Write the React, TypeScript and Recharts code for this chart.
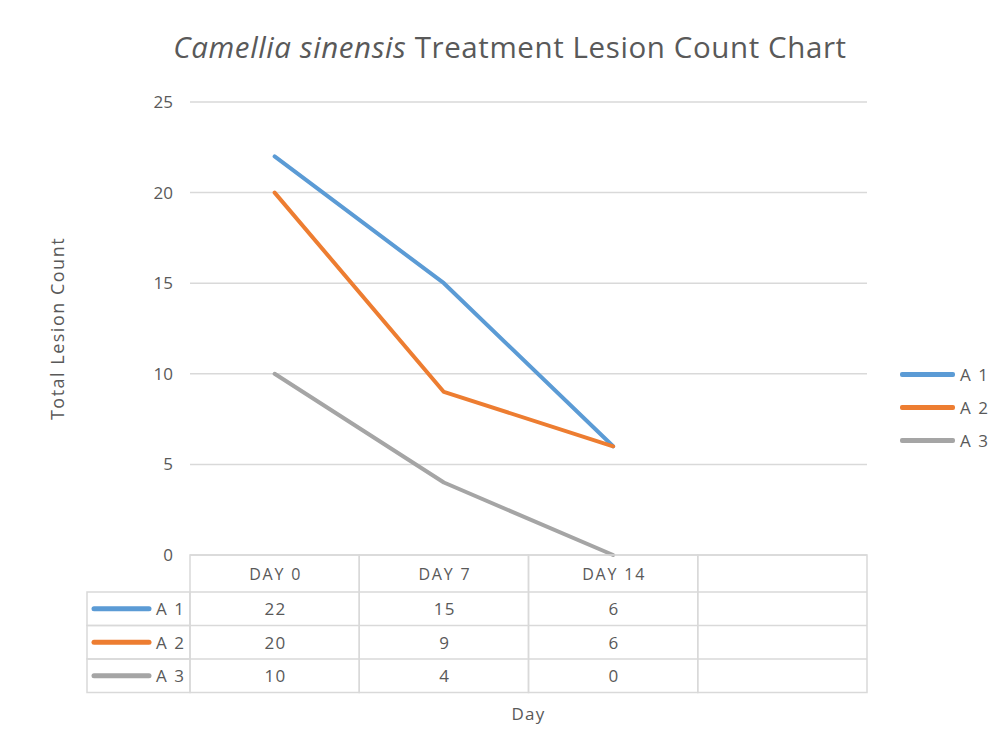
import React from 'react';
import { ComposedChart, Line, XAxis, YAxis, CartesianGrid, Legend } from 'recharts';

const categories = ['DAY 0', 'DAY 7', 'DAY 14', ''];
const seriesNames = ['A 1', 'A 2', 'A 3'];
const a1Values = [22, 15, 6];
const a2Values = [20, 9, 6];
const a3Values = [10, 4, 0];
const yTicks = [0, 5, 10, 15, 20, 25];
const colors = ['#5B9BD5', '#ED7D31', '#A5A5A5'];

const seriesValues = [a1Values, a2Values, a3Values];

const data = categories.map((cat, i) => ({
  day: cat,
  a1: a1Values[i] ?? null,
  a2: a2Values[i] ?? null,
  a3: a3Values[i] ?? null,
}));
const keys = ['a1', 'a2', 'a3'];

const FONT = '"Open Sans", sans-serif';
const TEXT = '#595959';
const BORDER = '#D9D9D9';
const HEADER_H = 37;
const ROW_H = 33.5;
const LEGEND_COL_W = 103;

const TableTick = (props: any) => {
  const { x, y, payload, index } = props;
  const colW = payload && payload.offset ? payload.offset * 2 : 169.25;
  const left = x - colW / 2;
  const top = y;
  const totalH = HEADER_H + ROW_H * seriesNames.length;
  const els: any[] = [];
  els.push(
    <rect key="cell" x={left} y={top} width={colW} height={totalH} fill="none" stroke={BORDER} strokeWidth={1.5} />
  );
  for (let r = 0; r < seriesNames.length; r++) {
    const ry = top + HEADER_H + r * ROW_H;
    els.push(<line key={'h' + r} x1={left} x2={left + colW} y1={ry} y2={ry} stroke={BORDER} strokeWidth={1.5} />);
    const v = seriesValues[r][index];
    if (v !== undefined && v !== null) {
      els.push(
        <text key={'v' + r} x={x + 1} y={ry + ROW_H / 2} textAnchor="middle" dominantBaseline="central"
          fontFamily={FONT} fontSize={17} letterSpacing={1.5} fill={TEXT}>{v}</text>
      );
    }
  }
  els.push(
    <text key="hdr" x={x + 1} y={top + HEADER_H / 2} textAnchor="middle" dominantBaseline="central"
      fontFamily={FONT} fontSize={16} letterSpacing={1.8} fill={TEXT}>{payload.value}</text>
  );
  if (index === 0) {
    const lx = left - LEGEND_COL_W;
    for (let r = 0; r < seriesNames.length; r++) {
      const ry = top + HEADER_H + r * ROW_H;
      els.push(<rect key={'lc' + r} x={lx} y={ry} width={LEGEND_COL_W} height={ROW_H} fill="none" stroke={BORDER} strokeWidth={1.5} />);
      els.push(<line key={'ls' + r} x1={lx + 7} x2={lx + 62} y1={ry + ROW_H / 2} y2={ry + ROW_H / 2} stroke={colors[r]} strokeWidth={5} strokeLinecap="round" />);
      els.push(
        <text key={'lt' + r} x={lx + 69} y={ry + ROW_H / 2} dominantBaseline="central"
          fontFamily={FONT} fontSize={17} letterSpacing={1.5} fill={TEXT}>{seriesNames[r]}</text>
      );
    }
  }
  return <g>{els}</g>;
};

const LegendContent = () => (
  <div style={{ fontFamily: FONT, fontSize: 17, color: TEXT, letterSpacing: 1.5 }}>
    {seriesNames.map((n, i) => (
      <div key={n} style={{ display: 'flex', alignItems: 'center', height: 33 }}>
        <div style={{ width: 55, height: 5, background: colors[i], borderRadius: 2, marginLeft: 2, marginRight: 5 }} />
        <span style={{ whiteSpace: 'nowrap' }}>{n}</span>
      </div>
    ))}
  </div>
);

const YLabel = (props: any) => {
  const { viewBox } = props;
  const cx = viewBox.x + 57;
  const cy = viewBox.y + viewBox.height / 2;
  return (
    <text x={cx} y={cy} transform={`rotate(-90 ${cx} ${cy})`} textAnchor="middle" dominantBaseline="central"
      fontFamily={FONT} fontSize={18} letterSpacing={1.5} fill={TEXT}>Total Lesion Count</text>
  );
};

const XLabel = (props: any) => {
  const { viewBox } = props;
  const cx = viewBox.x + viewBox.width / 2;
  return (
    <text x={cx} y={713} textAnchor="middle" dominantBaseline="central"
      fontFamily={FONT} fontSize={17} letterSpacing={1.2} fill={TEXT}>Day</text>
  );
};

export default function App() {
  return (
    <div style={{ position: 'absolute', left: 0, top: 0, width: 1002, height: 756, background: '#fff' }}>
      <div style={{ position: 'absolute', left: 0, width: 1002, top: 27, textAlign: 'center', fontFamily: FONT, fontSize: 29.5, letterSpacing: 0.6, color: TEXT, lineHeight: '40px', paddingLeft: 18, boxSizing: 'border-box' }}>
        <i>Camellia sinensis</i> Treatment Lesion Count Chart
      </div>
      <ComposedChart width={1002} height={756} data={data} margin={{ top: 102, right: 31, bottom: 0, left: 0 }}>
        <CartesianGrid horizontal vertical={false} stroke={BORDER} strokeWidth={1.5} />
        <XAxis dataKey="day" scale="band" height={201} interval={0} tickLine={false} axisLine={false}
          tickSize={0} tickMargin={0} tick={<TableTick />} label={<XLabel />} />
        <YAxis width={190} domain={[0, 25]} ticks={yTicks} tickLine={false} axisLine={false} tickSize={0} tickMargin={17}
          tick={{ fontFamily: FONT, fontSize: 17, fill: TEXT }} label={<YLabel />} />
        <Legend layout="vertical" align="right" verticalAlign="middle" content={<LegendContent />}
          wrapperStyle={{ left: 898, top: 358, right: 'auto', width: 104 }} />
        {keys.map((k, i) => (
          <Line key={k} dataKey={k} name={seriesNames[i]} stroke={colors[i]} strokeWidth={4} dot={false}
            strokeLinecap="round" strokeLinejoin="round" isAnimationActive={false} legendType="line" />
        ))}
      </ComposedChart>
    </div>
  );
}
